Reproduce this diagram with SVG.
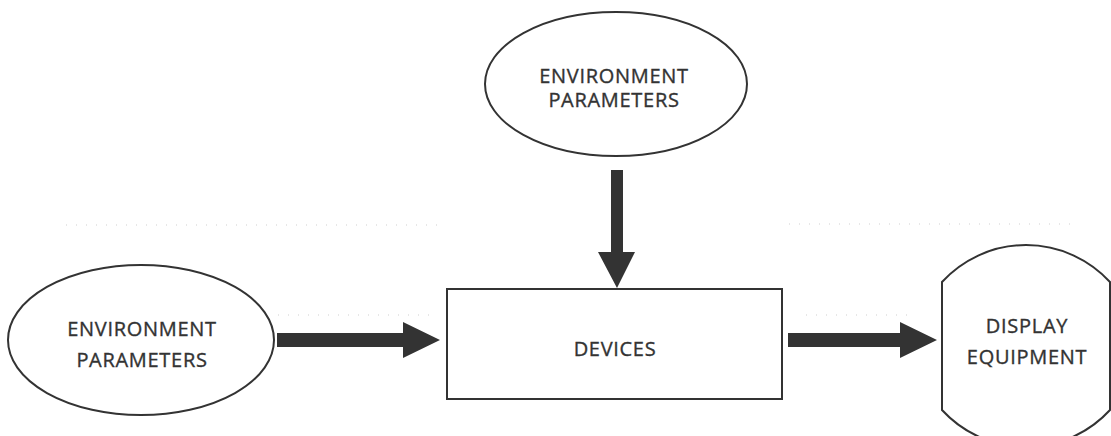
<svg xmlns="http://www.w3.org/2000/svg" width="1111" height="436" viewBox="0 0 1111 436">
  <style>
    .shape { fill: #ffffff; stroke: #333333; stroke-width: 2; }
    .label { font-family: "Open Sans", "Noto Sans", "Liberation Sans", sans-serif; font-size: 20px; letter-spacing: 0.7px; fill: #333333; stroke: #333333; stroke-width: 0.35; text-anchor: middle; }
    .arrow { fill: #333333; stroke: none; }
    .guide { fill: none; stroke: #cfcfcf; stroke-width: 1; stroke-dasharray: 1 9; }
  </style>
  <rect width="1111" height="436" fill="#ffffff"/>

  <!-- faint dotted guide lines -->
  <g id="guides">
    <line class="guide" x1="66" y1="225" x2="438" y2="225"/>
    <line class="guide" x1="789" y1="224" x2="1072" y2="224"/>
    <line class="guide" x1="278" y1="315" x2="432" y2="315"/>
    <line class="guide" x1="806" y1="315" x2="912" y2="315"/>
  </g>

  <g id="env-top">
    <ellipse class="shape" cx="616" cy="84" rx="131" ry="72"/>
    <text class="label" x="614" y="83">ENVIRONMENT</text>
    <text class="label" x="614" y="107">PARAMETERS</text>
  </g>

  <g id="env-left">
    <ellipse class="shape" cx="141" cy="340" rx="133" ry="75"/>
    <text class="label" x="142" y="336">ENVIRONMENT</text>
    <text class="label" x="142" y="367">PARAMETERS</text>
  </g>

  <g id="devices">
    <rect class="shape" x="447" y="289" width="335" height="110"/>
    <text class="label" x="615" y="356">DEVICES</text>
  </g>

  <g id="display">
    <path class="shape" d="M942,282 A114,114 0 0,1 1110,282 L1110,410 A114,114 0 0,1 942,410 Z"/>
    <text class="label" x="1027" y="333">DISPLAY</text>
    <text class="label" x="1027" y="364">EQUIPMENT</text>
  </g>

  <!-- block arrows -->
  <g id="connectors">
    <polygon class="arrow" points="611,170 623,170 623,252 635,252 617,288 598,252 611,252"/>
    <polygon class="arrow" points="277,333 403,333 403,322 440,340 403,358 403,347 277,347"/>
    <polygon class="arrow" points="788,333 900,333 900,322 937,340 900,358 900,347 788,347"/>
  </g>
</svg>
